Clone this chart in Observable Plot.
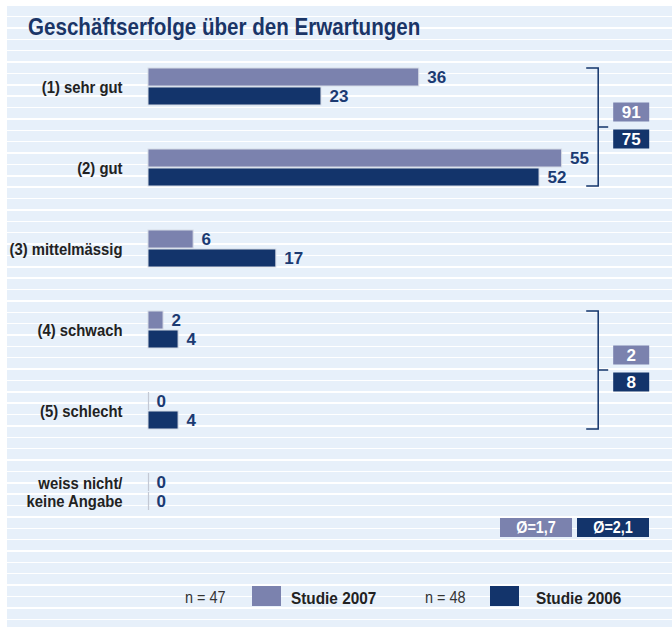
<!DOCTYPE html>
<html><head><meta charset="utf-8">
<script src="https://cdn.jsdelivr.net/npm/d3@7"></script>
<script src="https://cdn.jsdelivr.net/npm/@observablehq/plot@0.6"></script>
<style>
body{margin:0;background:#fff;font-family:"Liberation Sans",Arial,sans-serif;}
#wrap{position:relative;width:672px;height:630px;overflow:hidden;}
#panel{position:absolute;left:7px;top:6px;width:665px;height:621px;background-color:#e7f0fa;
 background-image:repeating-linear-gradient(to bottom,transparent 0,transparent 9.9px,#fff 9.9px,#fff 11.37px);}
#title{position:absolute;left:28px;top:16px;font-size:23px;line-height:23px;font-weight:bold;color:#1a3567;white-space:nowrap;transform:scaleX(0.895);transform-origin:0 0;}
#chart{position:absolute;left:0;top:0;}
.abs{position:absolute;white-space:nowrap;}
.n{font-size:16px;line-height:20px;color:#333;transform:scaleX(0.9);transform-origin:0 0;}
.lg{font-size:16.5px;line-height:20px;font-weight:bold;color:#222;transform:scaleX(0.93);transform-origin:0 0;}
.sw{width:29px;height:20px;}
.avg{height:19px;line-height:19px;width:72px;text-align:center;color:#fff;font-weight:bold;font-size:16px;}
.avg span{display:inline-block;transform:scaleX(0.9);}
</style></head>
<body>
<div id="wrap">
 <div id="panel"></div>
 <div id="title">Geschäftserfolge über den Erwartungen</div>
 <div id="chart"></div>
</div>
<script>
const categories = ["(1) sehr gut","(2) gut","(3) mittelmässig","(4) schwach","(5) schlecht","weiss nicht/\nkeine Angabe"];
const studie2007 = [36,55,6,2,0,0];
const studie2006 = [23,52,17,4,4,0];
const seriesNames = ["Studie 2007","Studie 2006"];
const sampleSizes = [47,48];
const colors = ["#7b82ae","#13346b"];
const bracketGroups = [[0,1],[3,4]];
const xMax = 60;

const navy = "#1b3a72";
const BAND = 37;
const rows = categories.map((c,i)=>({cat:c, v2007:studie2007[i], v2006:studie2006[i]}));

function brackets(index, scales) {
  const {x, y} = scales;
  const bw = y.bandwidth();
  const g = d3.create("svg:g");
  for (const [a,b] of bracketGroups) {
    const top = y(categories[a]), bottom = y(categories[b]) + bw;
    const bx = x(xMax) - 1, mid = (top+bottom)/2;
    g.append("path")
      .attr("d", `M${bx-12},${top}H${bx}V${bottom}H${bx-12}M${bx},${mid}H${bx+10}`)
      .attr("fill","none").attr("stroke",colors[1]).attr("stroke-width",1.5);
    const sums = [d3.sum(studie2007.slice(a,b+1)), d3.sum(studie2006.slice(a,b+1))];
    sums.forEach((s,k) => {
      const by = k===0 ? mid-24.5 : mid+2.5;
      g.append("rect").attr("x",bx+15).attr("y",by).attr("width",36).attr("height",19).attr("fill",colors[k]);
      g.append("text").attr("x",bx+33).attr("y",by+9.5).attr("text-anchor","middle")
        .attr("dominant-baseline","central").attr("fill","#fff").attr("font-weight","bold")
        .attr("font-size",17).text(s);
    });
  }
  return g.node();
}

const plot = Plot.plot({
  width: 672, height: 630,
  marginLeft: 148, marginRight: 672-148-451.2,
  marginTop: 67.5, marginBottom: 630-67.5-81*(6-(1-BAND/81)),
  style: {background:"transparent", fontFamily:'"Liberation Sans",Arial,sans-serif'},
  x: {domain:[0,xMax], axis:null},
  y: {domain:categories, axis:null, paddingInner:1-BAND/81, paddingOuter:0},
  marks: [
    Plot.barX(rows, {x:"v2007", y:"cat", fill:colors[0], stroke:"#d6dbe6", strokeWidth:1, insetBottom:BAND/2+0.5}),
    Plot.barX(rows, {x:"v2006", y:"cat", fill:colors[1], stroke:"#d6dbe6", strokeWidth:1, insetTop:BAND/2+0.5}),
    Plot.tickX(rows.filter(d=>d.v2007===0), {x:"v2007", y:"cat", stroke:"#c3c8d4", strokeWidth:1.2, insetBottom:BAND/2+0.5}),
    Plot.tickX(rows.filter(d=>d.v2006===0), {x:"v2006", y:"cat", stroke:"#c3c8d4", strokeWidth:1.2, insetTop:BAND/2+0.5}),
    Plot.text(rows, {x:"v2007", y:"cat", text:d=>String(d.v2007), dx:8, dy:-BAND/4, textAnchor:"start", fill:navy, fontWeight:"bold", fontSize:17}),
    Plot.text(rows, {x:"v2006", y:"cat", text:d=>String(d.v2006), dx:8, dy:BAND/4, textAnchor:"start", fill:navy, fontWeight:"bold", fontSize:17}),
    Plot.text(rows, {x:0, y:"cat", text:"cat", dx:-26, textAnchor:"end", fill:"#222", fontWeight:"bold", fontSize:16.5, lineHeight:1.1}),
    brackets
  ]
});
document.getElementById("chart").appendChild(plot);
// condense the category labels (the reference uses a narrow typeface)
plot.querySelectorAll('g[aria-label="text"][fill="#222"] text').forEach(t => {
  const tr = t.getAttribute("transform") || "";
  t.setAttribute("transform", tr + " scale(0.9,1)");
});

// averages
const avg = v => d3.sum(v.slice(0,5).map((p,i)=>p*(i+1))) / d3.sum(v.slice(0,5));
const fmt = a => "Ø=" + a.toFixed(1).replace(".", ",");
const wrap = document.getElementById("wrap");
function add(cls, css, text, inner) {
  const d = document.createElement("div");
  d.className = "abs " + cls; Object.assign(d.style, css);
  if (text!=null) { if (inner) { const s=document.createElement("span"); s.textContent=text; d.appendChild(s);} else d.textContent = text; }
  wrap.appendChild(d); return d;
}
add("avg", {left:"500px", top:"518px", background:colors[0]}, fmt(avg(studie2007)), true);
add("avg", {left:"577px", top:"518px", background:colors[1]}, fmt(avg(studie2006)), true);
// legend
const legendX = [[185,252,291],[425,490,536]];
seriesNames.forEach((s,k)=>{
  const [nx,sx,lx] = legendX[k];
  add("n", {left:nx+"px", top:"588px"}, "n = " + sampleSizes[k]);
  add("sw", {left:sx+"px", top:"586px", background:colors[k]});
  add("lg", {left:lx+"px", top:"588px"}, s);
});
</script>
</body></html>
